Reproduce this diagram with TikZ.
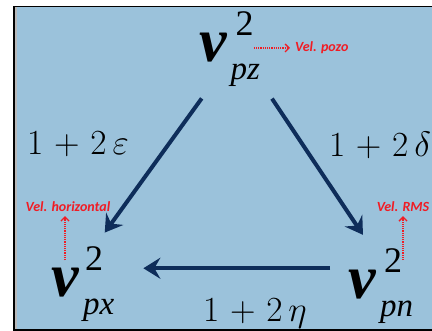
\documentclass[tikz,border=0pt]{standalone}
\usepackage{fontspec}
\newfontfamily\vfont{Liberation Serif}
\newfontfamily\notefont{Carlito}
\usetikzlibrary{arrows.meta, positioning}
\definecolor{bgblue}{RGB}{155,194,219}
\definecolor{navy}{RGB}{14,45,90}
\definecolor{notered}{RGB}{240,28,36}
\tikzset{
  vsym/.style={font=\fontsize{62}{62}\vfont\bfseries\itshape, inner sep=0pt},
  supnum/.style={font=\fontsize{36}{36}\vfont, inner sep=0pt},
  subidx/.style={font=\fontsize{33}{33}\vfont\itshape, inner sep=0pt},
  coef/.style={font=\Huge, scale=1.42, inner sep=0pt},
  note/.style={font=\fontsize{14}{14}\notefont\bfseries\itshape,
               text=notered, inner sep=0pt},
  link/.style={-{Stealth[length=17pt,width=21pt,inset=6pt]},
               line width=4pt, draw=navy},
  pointer/.style={-{Straight Barb[length=4pt,width=8pt]}, color=notered,
                  line width=1.3pt, dash pattern=on 1.2pt off 1pt},
}

\begin{document}
\begin{tikzpicture}[x=1pt, y=-1pt]
  \useasboundingbox (0,0) rectangle (432,331);
  % slide background
  \fill[bgblue] (14,6) rectangle (432,330);
  \fill[gray!55] (15,7) rectangle (17,329);
  \draw[line width=1.5pt] (432,6.5) -- (14,6.5) -- (14,330) -- (432,330);

  % velocities
  \node[vsym] (pz) at (213.5,48) {v};
  \node[supnum, anchor=south west] (pz2) at ([xshift=8pt,yshift=-2pt]pz.north east) {2};
  \node[subidx, anchor=base west] (pzs) at ([xshift=3pt,yshift=-17pt]pz.south east) {pz};

  \node[vsym] (px) at (65,283) {v};
  \node[supnum, anchor=south west] (px2) at ([xshift=6pt,yshift=-2pt]px.north east) {2};
  \node[subidx, anchor=base west] (pxs) at ([xshift=4pt,yshift=-17pt]px.south east) {px};

  \node[vsym] (pn) at (362,285) {v};
  \node[supnum, anchor=south west] (pn2) at ([xshift=8pt,yshift=-2pt]pn.north east) {2};
  \node[subidx, anchor=base west] (pns) at ([xshift=4pt,yshift=-17pt]pn.south east) {pn};

  % coefficients
  \node[coef, anchor=base] (eps) at (78,155) {$1\mskip1.5mu+\mskip1.5mu2\,\varepsilon$};
  \node[coef, anchor=base] (del) at (380,157) {$1\mskip1.5mu+\mskip1.5mu2\,\delta$};
  \node[coef, anchor=base] (eta) at (255,322) {$1\mskip1.5mu+\mskip1.5mu2\,\eta$};

  % notes
  \node[note, anchor=west] (pozo) at (295,48) {Vel. pozo};
  \node[note] (horiz) at (68,207) {Vel. horizontal};
  \node[note] (rms) at (403,207) {Vel. RMS};

  % relations
  \draw[link, shorten <=44pt, shorten >=44pt] (pz.south east) -- (px.north east);
  \draw[link, shorten <=14pt, shorten >=45pt]
    ([xshift=4pt]pzs.south east) -- ([xshift=4pt]pn2.south west);
  \draw[link, shorten <=18pt, shorten >=40pt]
    ([yshift=2pt]pn.north west) -- ([yshift=2pt]pn.north west -| px2.east);

  \draw[pointer, shorten >=5pt] (pozo.west -| pz2.east) -- (pozo.west);
  \draw[pointer, shorten >=4pt] ([yshift=8pt]px.north) -- (px.north |- horiz.south);
  \draw[pointer, shorten >=4pt] (rms.south |- pn2.center) -- (rms.south);
\end{tikzpicture}
\end{document}
